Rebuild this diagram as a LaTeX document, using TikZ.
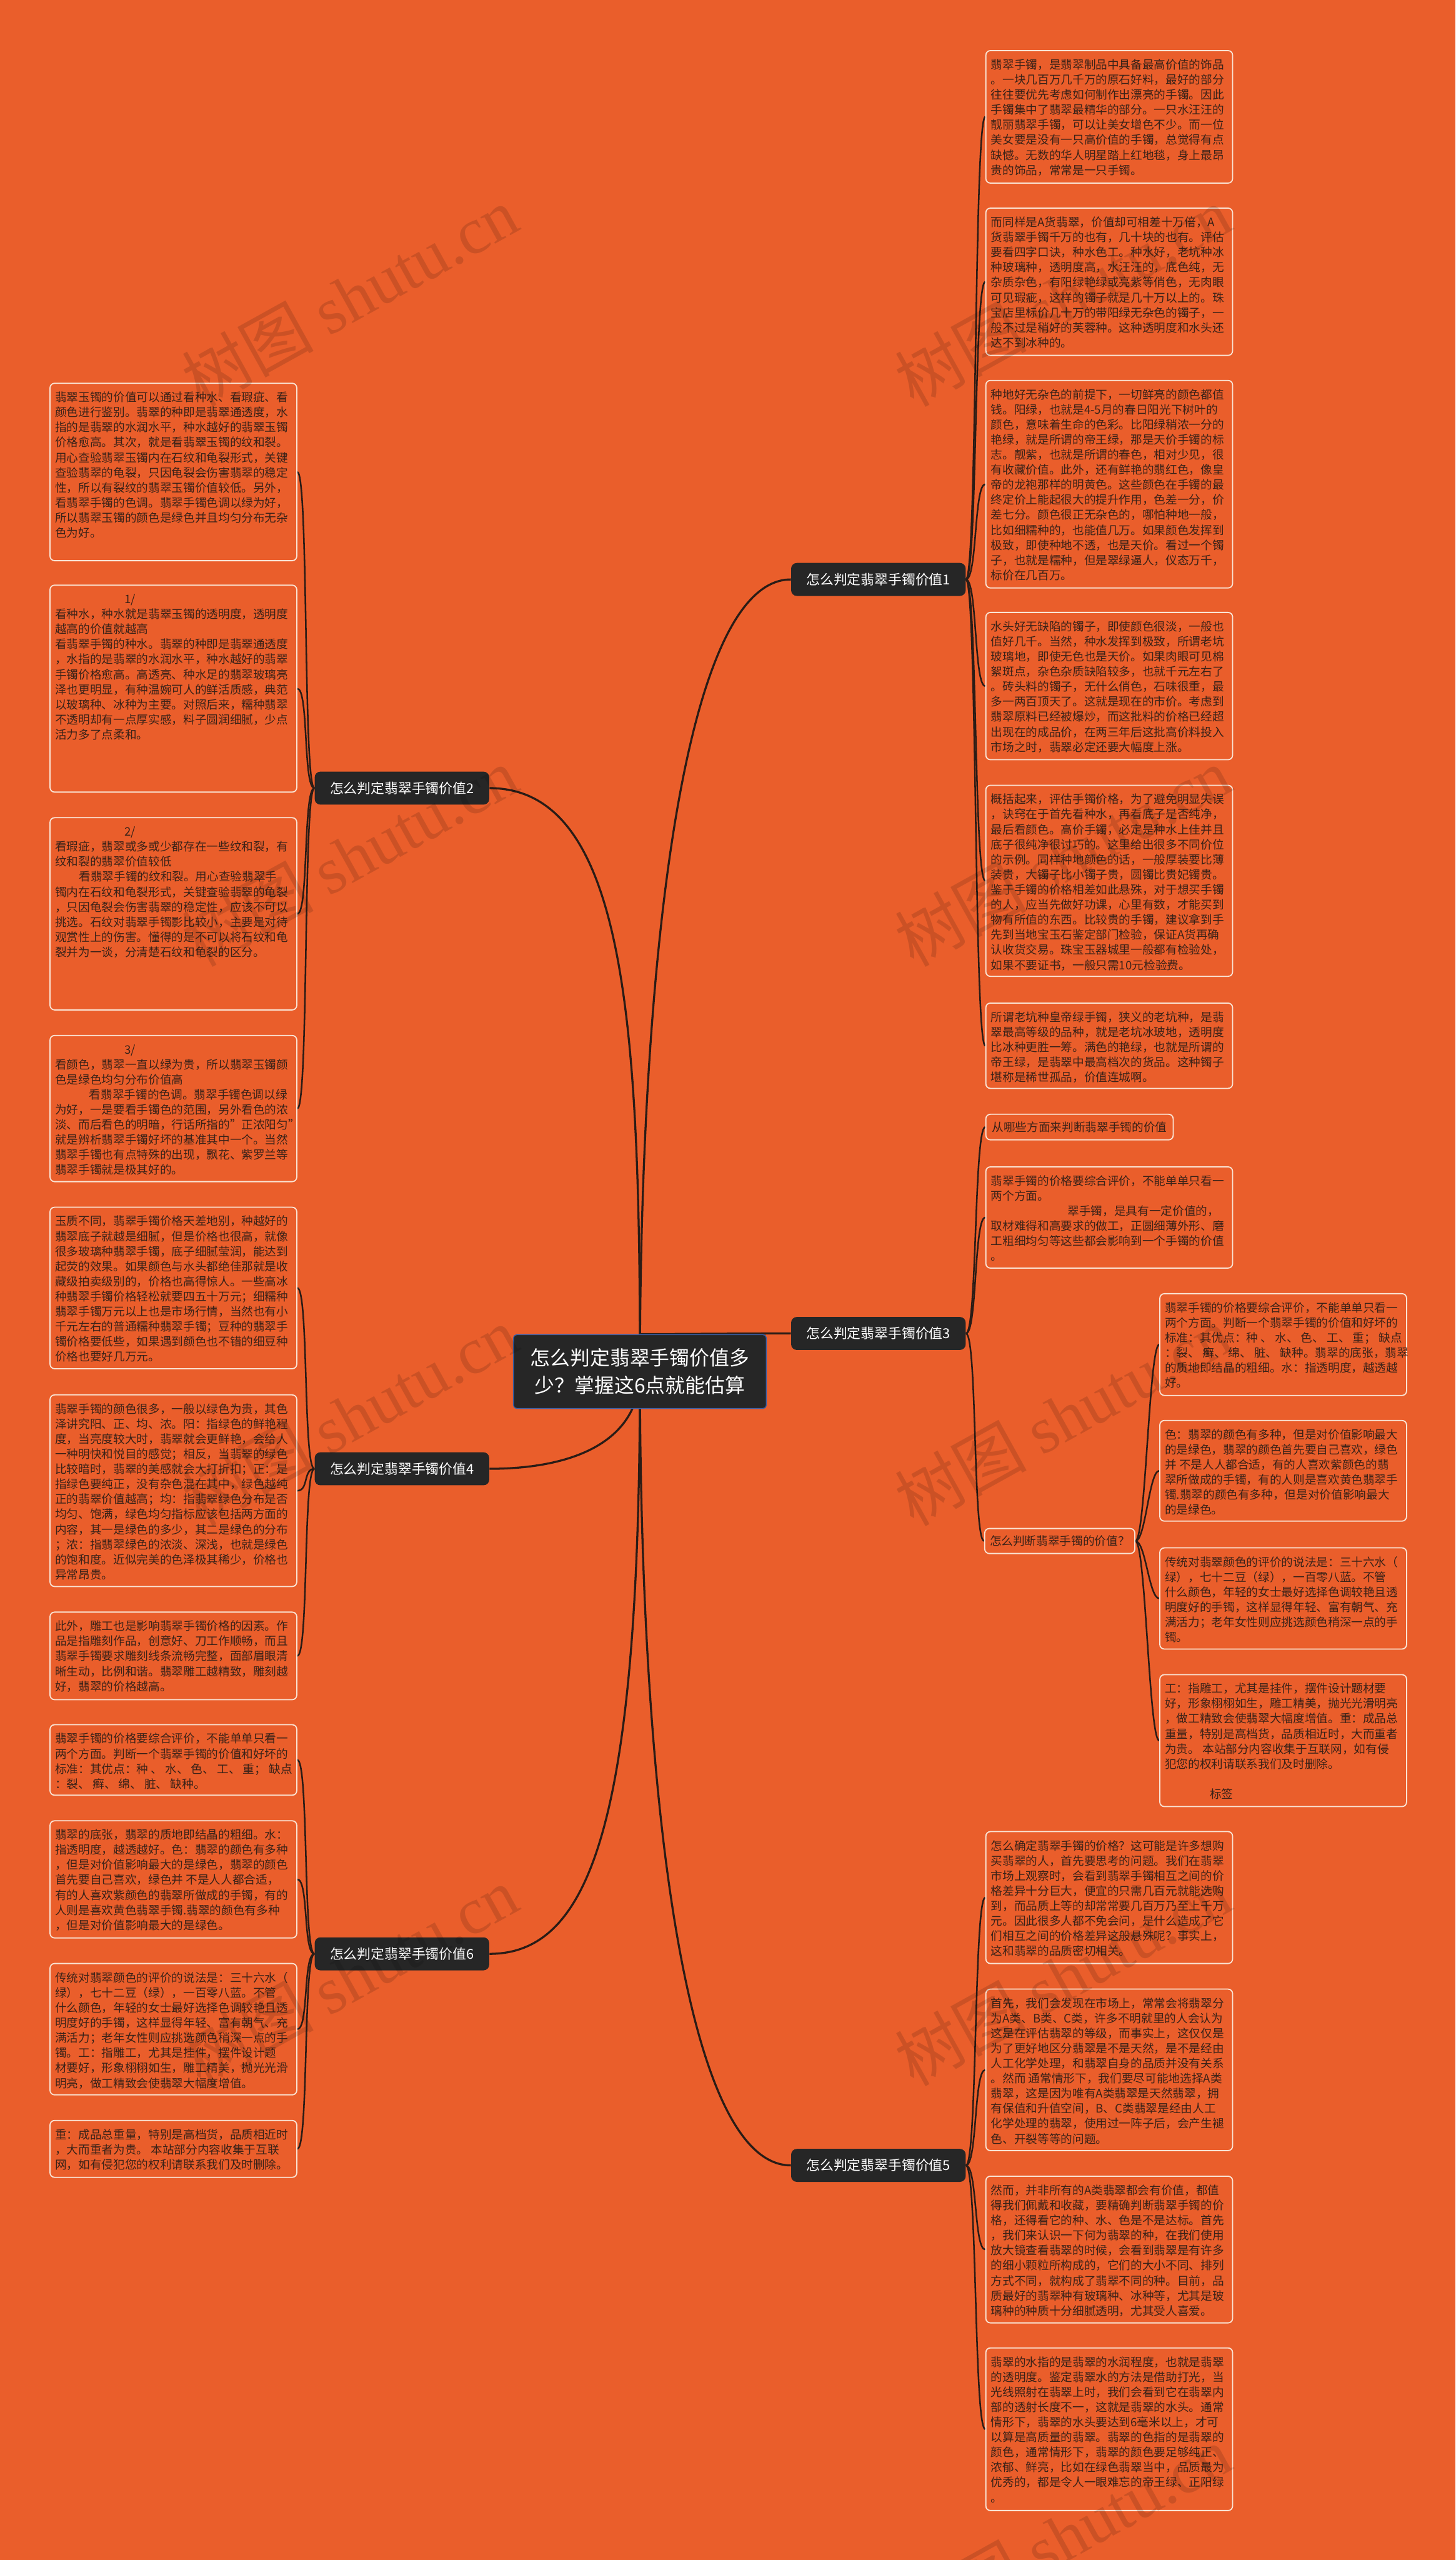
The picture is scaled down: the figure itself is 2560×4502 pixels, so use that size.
\documentclass[tikz,border=0pt]{standalone}
\usepackage{fontspec}
\setmainfont{Noto Sans CJK SC}
\newfontfamily\wmlatin{Liberation Serif}
\definecolor{bgorange}{RGB}{234,94,43}
\definecolor{boxline}{RGB}{250,228,212}
\definecolor{leaftext}{RGB}{58,34,24}
\definecolor{wire}{RGB}{42,28,22}
\definecolor{darknode}{RGB}{38,38,38}
\definecolor{rootline}{RGB}{58,96,168}
\pgfdeclarelayer{bg}
\pgfdeclarelayer{wires}
\pgfdeclarelayer{marks}
\pgfsetlayers{bg,wires,main,marks}
\newcommand\LL[1]{\mbox{\rule{0pt}{8.6pt}#1}\par}
\newcommand\leaffont{\fontsize{10.25pt}{13.25pt}\selectfont}
\tikzset{
  leafbox/.style={draw=boxline, line width=1pt, rounded corners=4pt, inner xsep=4.5pt, inner ysep=7.5pt, text=leaftext, anchor=north west, font=\leaffont},
  branch/.style={fill=darknode, rounded corners=5pt, text=white, minimum width=153.5pt, minimum height=29pt, inner sep=0pt, font=\fontsize{12pt}{14pt}\selectfont},
  rootnode/.style={fill=darknode, draw=rootline, line width=0.8pt, rounded corners=3pt, text=white, minimum width=222.5pt, minimum height=65pt, align=center, inner sep=0pt, font=\fontsize{17.5pt}{24pt}\selectfont},
  mainwire/.style={draw=wire, line width=1.8pt},
  leafwire/.style={draw=wire, line width=1.4pt},
  wm/.style={text=black, text opacity=0.13, rotate=29, anchor=base west, inner sep=0pt, font=\fontsize{58pt}{60pt}\selectfont}
}
\newcommand\leafnode[5]{\node[leafbox] (#1) at (#2,#3) {\parbox[c][\dimexpr #4pt/2-15pt\relax][t]{208pt}{#5}};}
\begin{document}
\begin{tikzpicture}[x=0.5pt,y=-0.5pt]
\useasboundingbox (0,0) rectangle (2560,4502);
\begin{pgfonlayer}{bg}
\fill[bgorange] (0,0) rectangle (2560,4502);
\end{pgfonlayer}

% root and branches
\node[rootnode] (root) at (1125.5,2412) {怎么判定翡翠手镯价值多\\少？掌握这6点就能估算};
\node[branch] (b1) at (1545,1019) {怎么判定翡翠手镯价值1};
\node[branch] (b2) at (707,1386) {怎么判定翡翠手镯价值2};
\node[branch] (b3) at (1545,2345) {怎么判定翡翠手镯价值3};
\node[branch] (b4) at (707,2583) {怎么判定翡翠手镯价值4};
\node[branch] (b5) at (1545,3808) {怎么判定翡翠手镯价值5};
\node[branch] (b6) at (707,3436) {怎么判定翡翠手镯价值6};

% right column, branch 1
\leafnode{r1}{1733}{88}{233}{%
\LL{翡翠手镯，是翡翠制品中具备最高价值的饰品}
\LL{。一块几百万几千万的原石好料，最好的部分}
\LL{往往要优先考虑如何制作出漂亮的手镯。因此}
\LL{手镯集中了翡翠最精华的部分。一只水汪汪的}
\LL{靓丽翡翠手镯，可以让美女增色不少。而一位}
\LL{美女要是没有一只高价值的手镯，总觉得有点}
\LL{缺憾。无数的华人明星踏上红地毯，身上最昂}
\LL{贵的饰品，常常是一只手镯。}}
\leafnode{r2}{1733}{365}{259}{%
\LL{而同样是A货翡翠，价值却可相差十万倍，A}
\LL{货翡翠手镯千万的也有，几十块的也有。评估}
\LL{要看四字口诀，种水色工。种水好，老坑种冰}
\LL{种玻璃种，透明度高，水汪汪的，底色纯，无}
\LL{杂质杂色，有阳绿艳绿或亮紫等俏色，无肉眼}
\LL{可见瑕疵，这样的镯子就是几十万以上的。珠}
\LL{宝店里标价几十万的带阳绿无杂色的镯子，一}
\LL{般不过是稍好的芙蓉种。这种透明度和水头还}
\LL{达不到冰种的。}}
\leafnode{r3}{1733}{668}{365}{%
\LL{种地好无杂色的前提下，一切鲜亮的颜色都值}
\LL{钱。阳绿，也就是4-5月的春日阳光下树叶的}
\LL{颜色，意味着生命的色彩。比阳绿稍浓一分的}
\LL{艳绿，就是所谓的帝王绿，那是天价手镯的标}
\LL{志。靓紫，也就是所谓的春色，相对少见，很}
\LL{有收藏价值。此外，还有鲜艳的翡红色，像皇}
\LL{帝的龙袍那样的明黄色。这些颜色在手镯的最}
\LL{终定价上能起很大的提升作用，色差一分，价}
\LL{差七分。颜色很正无杂色的，哪怕种地一般，}
\LL{比如细糯种的，也能值几万。如果颜色发挥到}
\LL{极致，即使种地不透，也是天价。看过一个镯}
\LL{子，也就是糯种，但是翠绿逼人，仪态万千，}
\LL{标价在几百万。}}
\leafnode{r4}{1733}{1076}{259}{%
\LL{水头好无缺陷的镯子，即使颜色很淡，一般也}
\LL{值好几千。当然，种水发挥到极致，所谓老坑}
\LL{玻璃地，即使无色也是天价。如果肉眼可见棉}
\LL{絮斑点，杂色杂质缺陷较多，也就千元左右了}
\LL{。砖头料的镯子，无什么俏色，石味很重，最}
\LL{多一两百顶天了。这就是现在的市价。考虑到}
\LL{翡翠原料已经被爆炒，而这批料的价格已经超}
\LL{出现在的成品价，在两三年后这批高价料投入}
\LL{市场之时，翡翠必定还要大幅度上涨。}}
\leafnode{r5}{1733}{1380}{336}{%
\LL{概括起来，评估手镯价格，为了避免明显失误}
\LL{，诀窍在于首先看种水，再看底子是否纯净，}
\LL{最后看颜色。高价手镯，必定是种水上佳并且}
\LL{底子很纯净很讨巧的。这里给出很多不同价位}
\LL{的示例。同样种地颜色的话，一般厚装要比薄}
\LL{装贵，大镯子比小镯子贵，圆镯比贵妃镯贵。}
\LL{鉴于手镯的价格相差如此悬殊，对于想买手镯}
\LL{的人，应当先做好功课，心里有数，才能买到}
\LL{物有所值的东西。比较贵的手镯，建议拿到手}
\LL{先到当地宝玉石鉴定部门检验，保证A货再确}
\LL{认收货交易。珠宝玉器城里一般都有检验处，}
\LL{如果不要证书，一般只需10元检验费。}}
\leafnode{r6}{1733}{1763}{150}{%
\LL{所谓老坑种皇帝绿手镯，狭义的老坑种，是翡}
\LL{翠最高等级的品种，就是老坑冰玻地，透明度}
\LL{比冰种更胜一筹。满色的艳绿，也就是所谓的}
\LL{帝王绿，是翡翠中最高档次的货品。这种镯子}
\LL{堪称是稀世孤品，价值连城啊。}}

% branch 3
\node[leafbox, anchor=west, minimum height=22.5pt, inner ysep=0pt, inner xsep=5.5pt] (r7) at (1733,1982) {从哪些方面来判断翡翠手镯的价值};
\leafnode{r8}{1733}{2051}{178}{%
\LL{翡翠手镯的价格要综合评价，不能单单只看一}
\LL{两个方面。}
\LL{\hspace*{67.5pt}翠手镯，是具有一定价值的，}
\LL{取材难得和高要求的做工，正圆细薄外形、磨}
\LL{工粗细均匀等这些都会影响到一个手镯的价值}
\LL{。}}
\node[leafbox, anchor=west, minimum height=22pt, inner ysep=0pt, inner xsep=4.5pt] (jn) at (1731,2710) {怎么判断翡翠手镯的价值？};
\leafnode{s1}{2039}{2274}{179}{%
\LL{翡翠手镯的价格要综合评价，不能单单只看一}
\LL{两个方面。判断一个翡翠手镯的价值和好坏的}
\LL{标准：其优点：种 、 水、 色、 工、 重； 缺点}
\LL{：裂、 癣、 绵、 脏、 缺种。翡翠的底张，翡翠}
\LL{的质地即结晶的粗细。水：指透明度，越透越}
\LL{好。}}
\leafnode{s2}{2039}{2497}{177}{%
\LL{色：翡翠的颜色有多种，但是对价值影响最大}
\LL{的是绿色，翡翠的颜色首先要自己喜欢，绿色}
\LL{并 不是人人都合适，有的人喜欢紫颜色的翡}
\LL{翠所做成的手镯，有的人则是喜欢黄色翡翠手}
\LL{镯.翡翠的颜色有多种，但是对价值影响最大}
\LL{的是绿色。}}
\leafnode{s3}{2039}{2721}{178}{%
\LL{传统对翡翠颜色的评价的说法是：三十六水（}
\LL{绿），七十二豆（绿），一百零八蓝。不管}
\LL{什么颜色，年轻的女士最好选择色调较艳且透}
\LL{明度好的手镯，这样显得年轻、富有朝气、充}
\LL{满活力；老年女性则应挑选颜色稍深一点的手}
\LL{镯。}}
\leafnode{s4}{2039}{2944}{232}{%
\LL{工：指雕工，尤其是挂件，摆件设计题材要}
\LL{好，形象栩栩如生，雕工精美，抛光光滑明亮}
\LL{，做工精致会使翡翠大幅度增值。重：成品总}
\LL{重量，特别是高档货，品质相近时，大而重者}
\LL{为贵。 本站部分内容收集于互联网，如有侵}
\LL{犯您的权利请联系我们及时删除。}
\LL{}
\LL{\hspace*{39.5pt}标签}}

% branch 5
\leafnode{q1}{1733}{3220}{232}{%
\LL{怎么确定翡翠手镯的价格？这可能是许多想购}
\LL{买翡翠的人，首先要思考的问题。我们在翡翠}
\LL{市场上观察时，会看到翡翠手镯相互之间的价}
\LL{格差异十分巨大，便宜的只需几百元就能选购}
\LL{到，而品质上等的却常常要几百万乃至上千万}
\LL{元。因此很多人都不免会问，是什么造成了它}
\LL{们相互之间的价格差异这般悬殊呢？事实上，}
\LL{这和翡翠的品质密切相关。}}
\leafnode{q2}{1733}{3497}{284}{%
\LL{首先，我们会发现在市场上，常常会将翡翠分}
\LL{为A类、B类、C类，许多不明就里的人会认为}
\LL{这是在评估翡翠的等级，而事实上，这仅仅是}
\LL{为了更好地区分翡翠是不是天然，是不是经由}
\LL{人工化学处理，和翡翠自身的品质并没有关系}
\LL{。然而 通常情形下，我们要尽可能地选择A类}
\LL{翡翠，这是因为唯有A类翡翠是天然翡翠，拥}
\LL{有保值和升值空间，B、C类翡翠是经由人工}
\LL{化学处理的翡翠，使用过一阵子后，会产生褪}
\LL{色、开裂等等的问题。}}
\leafnode{q3}{1733}{3826}{258}{%
\LL{然而，并非所有的A类翡翠都会有价值，都值}
\LL{得我们佩戴和收藏，要精确判断翡翠手镯的价}
\LL{格，还得看它的种、水、色是不是达标。首先}
\LL{，我们来认识一下何为翡翠的种，在我们使用}
\LL{放大镜查看翡翠的时候，会看到翡翠是有许多}
\LL{的细小颗粒所构成的，它们的大小不同、排列}
\LL{方式不同，就构成了翡翠不同的种。目前，品}
\LL{质最好的翡翠种有玻璃种、冰种等，尤其是玻}
\LL{璃种的种质十分细腻透明，尤其受人喜爱。}}
\leafnode{q4}{1733}{4128}{286}{%
\LL{翡翠的水指的是翡翠的水润程度，也就是翡翠}
\LL{的透明度。鉴定翡翠水的方法是借助打光，当}
\LL{光线照射在翡翠上时，我们会看到它在翡翠内}
\LL{部的透射长度不一，这就是翡翠的水头。通常}
\LL{情形下，翡翠的水头要达到6毫米以上，才可}
\LL{以算是高质量的翡翠。翡翠的色指的是翡翠的}
\LL{颜色，通常情形下，翡翠的颜色要足够纯正、}
\LL{浓郁、鲜亮，比如在绿色翡翠当中，品质最为}
\LL{优秀的，都是令人一眼难忘的帝王绿、正阳绿}
\LL{。}}

% left column, branch 2
\leafnode{l1}{87}{673}{312}{%
\LL{翡翠玉镯的价值可以通过看种水、看瑕疵、看}
\LL{颜色进行鉴别。翡翠的种即是翡翠通透度，水}
\LL{指的是翡翠的水润水平，种水越好的翡翠玉镯}
\LL{价格愈高。其次，就是看翡翠玉镯的纹和裂。}
\LL{用心查验翡翠玉镯内在石纹和龟裂形式，关键}
\LL{查验翡翠的龟裂，只因龟裂会伤害翡翠的稳定}
\LL{性，所以有裂纹的翡翠玉镯价值较低。另外，}
\LL{看翡翠手镯的色调。翡翠手镯色调以绿为好，}
\LL{所以翡翠玉镯的颜色是绿色并且均匀分布无杂}
\LL{色为好。}}
\leafnode{l2}{87}{1028}{364}{%
\LL{\hspace*{61pt}1/}
\LL{看种水，种水就是翡翠玉镯的透明度，透明度}
\LL{越高的价值就越高}
\LL{看翡翠手镯的种水。翡翠的种即是翡翠通透度}
\LL{，水指的是翡翠的水润水平，种水越好的翡翠}
\LL{手镯价格愈高。高透亮、种水足的翡翠玻璃亮}
\LL{泽也更明显，有种温婉可人的鲜活质感，典范}
\LL{以玻璃种、冰种为主要。对照后来，糯种翡翠}
\LL{不透明却有一点厚实感，料子圆润细腻，少点}
\LL{活力多了点柔和。}}
\leafnode{l3}{87}{1437}{338}{%
\LL{\hspace*{61pt}2/}
\LL{看瑕疵，翡翠或多或少都存在一些纹和裂，有}
\LL{纹和裂的翡翠价值较低}
\LL{\hspace*{21pt}看翡翠手镯的纹和裂。用心查验翡翠手}
\LL{镯内在石纹和龟裂形式，关键查验翡翠的龟裂}
\LL{，只因龟裂会伤害翡翠的稳定性，应该不可以}
\LL{挑选。石纹对翡翠手镯影比较小，主要是对待}
\LL{观赏性上的伤害。懂得的是不可以将石纹和龟}
\LL{裂并为一谈，分清楚石纹和龟裂的区分。}}
\leafnode{l4}{87}{1820}{257}{%
\LL{\hspace*{61pt}3/}
\LL{看颜色，翡翠一直以绿为贵，所以翡翠玉镯颜}
\LL{色是绿色均匀分布价值高}
\LL{\hspace*{30pt}看翡翠手镯的色调。翡翠手镯色调以绿}
\LL{为好，一是要看手镯色的范围，另外看色的浓}
\LL{淡、而后看色的明暗，行话所指的"正浓阳匀"}
\LL{就是辨析翡翠手镯好坏的基准其中一个。当然}
\LL{翡翠手镯也有点特殊的出现，飘花、紫罗兰等}
\LL{翡翠手镯就是极其好的。}}

% branch 4
\leafnode{l5}{87}{2122}{284}{%
\LL{玉质不同，翡翠手镯价格天差地别，种越好的}
\LL{翡翠底子就越是细腻，但是价格也很高，就像}
\LL{很多玻璃种翡翠手镯，底子细腻莹润，能达到}
\LL{起荧的效果。如果颜色与水头都绝佳那就是收}
\LL{藏级拍卖级别的，价格也高得惊人。一些高冰}
\LL{种翡翠手镯价格轻松就要四五十万元；细糯种}
\LL{翡翠手镯万元以上也是市场行情，当然也有小}
\LL{千元左右的普通糯种翡翠手镯；豆种的翡翠手}
\LL{镯价格要低些，如果遇到颜色也不错的细豆种}
\LL{价格也要好几万元。}}
\leafnode{l6}{87}{2452}{337}{%
\LL{翡翠手镯的颜色很多，一般以绿色为贵，其色}
\LL{泽讲究阳、正、均、浓。阳：指绿色的鲜艳程}
\LL{度，当亮度较大时，翡翠就会更鲜艳，会给人}
\LL{一种明快和悦目的感觉；相反，当翡翠的绿色}
\LL{比较暗时，翡翠的美感就会大打折扣；正：是}
\LL{指绿色要纯正，没有杂色混在其中，绿色越纯}
\LL{正的翡翠价值越高；均：指翡翠绿色分布是否}
\LL{均匀、饱满，绿色均匀指标应该包括两方面的}
\LL{内容，其一是绿色的多少，其二是绿色的分布}
\LL{；浓：指翡翠绿色的浓淡、深浅，也就是绿色}
\LL{的饱和度。近似完美的色泽极其稀少，价格也}
\LL{异常昂贵。}}
\leafnode{l7}{87}{2834}{154}{%
\LL{此外，雕工也是影响翡翠手镯价格的因素。作}
\LL{品是指雕刻作品，创意好、刀工作顺畅，而且}
\LL{翡翠手镯要求雕刻线条流畅完整，面部眉眼清}
\LL{晰生动，比例和谐。翡翠雕工越精致，雕刻越}
\LL{好，翡翠的价格越高。}}

% branch 6
\leafnode{l8}{87}{3032}{124}{%
\LL{翡翠手镯的价格要综合评价，不能单单只看一}
\LL{两个方面。判断一个翡翠手镯的价值和好坏的}
\LL{标准：其优点：种 、 水、 色、 工、 重； 缺点}
\LL{：裂、 癣、 绵、 脏、 缺种。}}
\leafnode{l9}{87}{3201}{206}{%
\LL{翡翠的底张，翡翠的质地即结晶的粗细。水：}
\LL{指透明度，越透越好。色：翡翠的颜色有多种}
\LL{，但是对价值影响最大的是绿色，翡翠的颜色}
\LL{首先要自己喜欢，绿色并 不是人人都合适，}
\LL{有的人喜欢紫颜色的翡翠所做成的手镯，有的}
\LL{人则是喜欢黄色翡翠手镯.翡翠的颜色有多种}
\LL{，但是对价值影响最大的是绿色。}}
\leafnode{l10}{87}{3452}{231}{%
\LL{传统对翡翠颜色的评价的说法是：三十六水（}
\LL{绿），七十二豆（绿），一百零八蓝。不管}
\LL{什么颜色，年轻的女士最好选择色调较艳且透}
\LL{明度好的手镯，这样显得年轻、富有朝气、充}
\LL{满活力；老年女性则应挑选颜色稍深一点的手}
\LL{镯。工：指雕工，尤其是挂件，摆件设计题}
\LL{材要好，形象栩栩如生，雕工精美，抛光光滑}
\LL{明亮，做工精致会使翡翠大幅度增值。}}
\leafnode{l11}{87}{3728}{100}{%
\LL{重：成品总重量，特别是高档货，品质相近时}
\LL{，大而重者为贵。 本站部分内容收集于互联}
\LL{网，如有侵犯您的权利请联系我们及时删除。}}

% connectors
\begin{pgfonlayer}{wires}
\draw[mainwire] (root.center) .. controls (1126,1700) and (1200,1019) .. (b1.west);
\draw[mainwire] (root.center) .. controls (1126,1800) and (1100,1386) .. (b2.east);
\draw[mainwire] (root.north) .. controls (1200,2346) and (1300,2345) .. (b3.west);
\draw[mainwire] (root.center) .. controls (1126,2540) and (1000,2583) .. (b4.east);
\draw[mainwire] (root.center) .. controls (1126,3132) and (1200,3808) .. (b5.west);
\draw[mainwire] (root.center) .. controls (1126,3200) and (1040,3436) .. (b6.east);
\foreach \nm in {r1,r2,r3,r4,r5,r6}
  \draw[leafwire] (b1.east) .. controls +(20,0) and +(-20,0) .. (\nm.west);
\foreach \nm in {r7,r8,jn}
  \draw[leafwire] (b3.east) .. controls +(20,0) and +(-20,0) .. (\nm.west);
\foreach \nm in {s1,s2,s3,s4}
  \draw[leafwire] (jn.east) .. controls +(18,0) and +(-18,0) .. (\nm.west);
\foreach \nm in {q1,q2,q3,q4}
  \draw[leafwire] (b5.east) .. controls +(20,0) and +(-20,0) .. (\nm.west);
\foreach \nm in {l1,l2,l3,l4}
  \draw[leafwire] (b2.west) .. controls +(-20,0) and +(20,0) .. (\nm.east);
\foreach \nm in {l5,l6,l7}
  \draw[leafwire] (b4.west) .. controls +(-20,0) and +(20,0) .. (\nm.east);
\foreach \nm in {l8,l9,l10,l11}
  \draw[leafwire] (b6.west) .. controls +(-20,0) and +(20,0) .. (\nm.east);
\end{pgfonlayer}

% watermarks
\begin{pgfonlayer}{marks}
\foreach \wy in {717,1702,2686,3671}{
  \node[wm] at (353,\wy) {树图 {\wmlatin shutu.cn}};
  \node[wm] at (1607,\wy) {树图 {\wmlatin shutu.cn}};
}
\node[wm] at (1607,4655) {树图 {\wmlatin shutu.cn}};
\end{pgfonlayer}
\end{tikzpicture}
\end{document}
